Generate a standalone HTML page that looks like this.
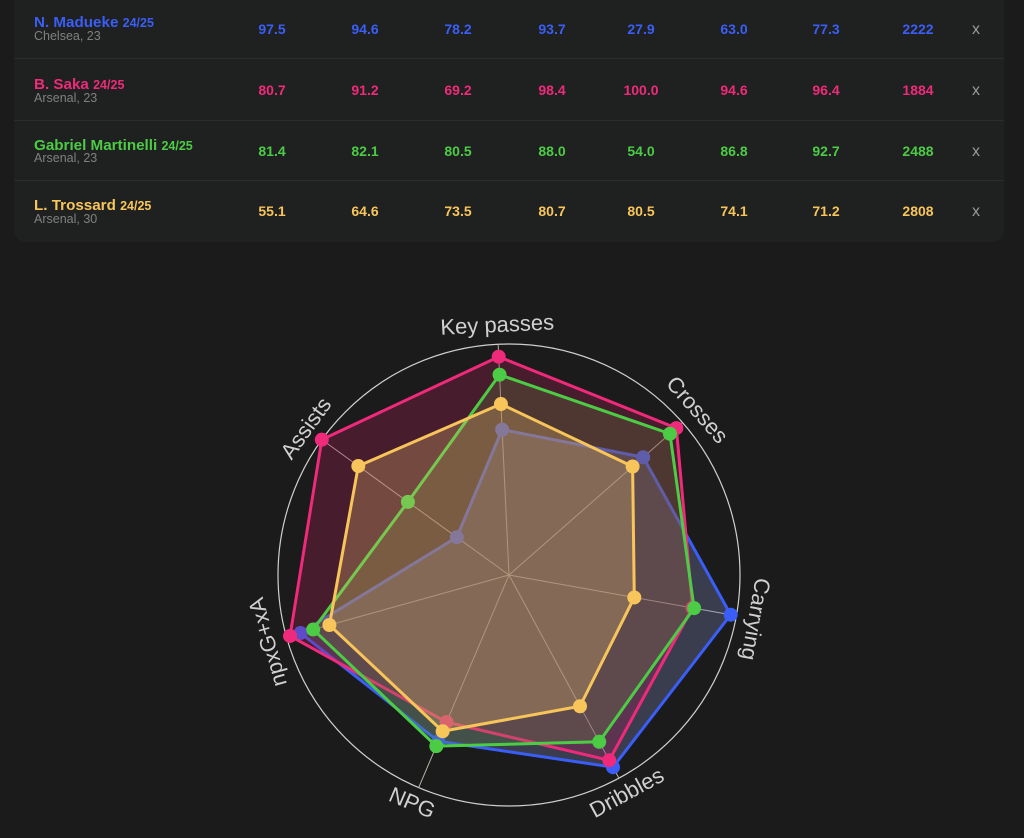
<!DOCTYPE html>
<html><head><meta charset="utf-8"><style>
html,body{margin:0;padding:0;background:#1a1b1a;width:1024px;height:838px;overflow:hidden;font-family:"Liberation Sans",Arial,sans-serif}
</style></head><body>
<svg id="s" width="1024" height="838" xmlns="http://www.w3.org/2000/svg" style="position:absolute;left:0;top:0">
<rect x="14" y="-20" width="990" height="262" rx="12" fill="#1f2020"/>
<g stroke="#2b2c2c" stroke-width="1"><line x1="14" y1="58.5" x2="1004" y2="58.5"/><line x1="14" y1="120.5" x2="1004" y2="120.5"/><line x1="14" y1="180.5" x2="1004" y2="180.5"/></g>
<g font-weight="bold">
<text x="34" y="27" fill="#3a5ef7" font-size="15.2">N. Madueke <tspan font-size="12.5">24/25</tspan></text>
<text x="34" y="89" fill="#f02a7a" font-size="15.2">B. Saka <tspan font-size="12.5">24/25</tspan></text>
<text x="34" y="150" fill="#4ccc44" font-size="15.2">Gabriel Martinelli <tspan font-size="12.5">24/25</tspan></text>
<text x="34" y="210" fill="#f8c55a" font-size="15.2">L. Trossard <tspan font-size="12.5">24/25</tspan></text>
</g>
<g fill="#808080" font-size="12.5"><text x="34" y="40">Chelsea, 23</text><text x="34" y="102">Arsenal, 23</text><text x="34" y="162">Arsenal, 23</text><text x="34" y="223">Arsenal, 30</text></g>
<g id="tbl" font-weight="bold" font-size="14" text-anchor="middle"></g>
<g fill="#9a9a9a" font-size="16" text-anchor="middle"><text x="976" y="34">x</text><text x="976" y="95">x</text><text x="976" y="156">x</text><text x="976" y="216">x</text></g>
<circle cx="509" cy="575" r="231" fill="none" stroke="#cfcfcf" stroke-width="1.2"/>
<g id="axes" stroke="#b8b2a6" stroke-width="1"></g>
<g id="polys"></g>
<g id="labels" fill="#d0d0d0" font-size="22" text-anchor="middle" dominant-baseline="middle">
<text id="l0">Key passes</text><text id="l1">Crosses</text><text id="l2">Carrying</text><text id="l3">Dribbles</text><text id="l4">NPG</text><text id="l5">npxG+xA</text><text id="l6">Assists</text>
</g>
</svg>
<script>
var cx=509,cy=575,R=231,NS="http://www.w3.org/2000/svg";
var cols=["#3a5ef7","#f02a7a","#4ccc44","#f8c55a"];
var fills=["#8090c8","#b0205a","#6a9a40","#e8c070"];
var ops=["0.3","0.3","0.22","0.28"];
var rows=[[97.5,94.6,78.2,93.7,27.9,63.0,77.3,2222],[80.7,91.2,69.2,98.4,100.0,94.6,96.4,1884],[81.4,82.1,80.5,88.0,54.0,86.8,92.7,2488],[55.1,64.6,73.5,80.7,80.5,74.1,71.2,2808]];
var ys=[34,95,156,216],xs=[272,365,458,552,641,734,826,918];
var t=document.getElementById('tbl');
rows.forEach(function(r,i){r.forEach(function(v,j){var e=document.createElementNS(NS,'text');e.setAttribute('x',xs[j]);e.setAttribute('y',ys[i]);e.setAttribute('fill',cols[i]);e.textContent=j<7?v.toFixed(1):v;t.appendChild(e);});});
var map=[5,6,0,1,2,3,4];
function ang(k){return (-2.7+k*360/7)*Math.PI/180;}
function pt(k,r){var a=ang(k);return [cx+r*Math.sin(a),cy-r*Math.cos(a)];}
var ax=document.getElementById('axes');
for(var k=0;k<7;k++){var p=pt(k,R);var l=document.createElementNS(NS,'line');l.setAttribute('x1',cx);l.setAttribute('y1',cy);l.setAttribute('x2',p[0]);l.setAttribute('y2',p[1]);ax.appendChild(l);
 var lb=document.getElementById('l'+k);var q=pt(k,249);var d=-2.7+k*360/7;if(d>180)d-=360;if(k==3||k==4)d-=180;lb.setAttribute('x',q[0]);lb.setAttribute('y',q[1]);lb.setAttribute('transform','rotate('+d+' '+q[0]+' '+q[1]+')');}
var pg=document.getElementById('polys');
rows.forEach(function(r,i){var pts=[];for(var k=0;k<7;k++){pts.push(pt(k,R*r[map[k]]/100));}
 var pl=document.createElementNS(NS,'polygon');pl.setAttribute('points',pts.map(function(p){return p.join(',')}).join(' '));pl.setAttribute('fill',fills[i]);pl.setAttribute('fill-opacity',ops[i]);pl.setAttribute('stroke',cols[i]);pl.setAttribute('stroke-width','3');pl.setAttribute('stroke-linejoin','round');pg.appendChild(pl);
 pts.forEach(function(p){var c=document.createElementNS(NS,'circle');c.setAttribute('cx',p[0]);c.setAttribute('cy',p[1]);c.setAttribute('r','7');c.setAttribute('fill',cols[i]);pg.appendChild(c);});});
</script>
</body></html>
